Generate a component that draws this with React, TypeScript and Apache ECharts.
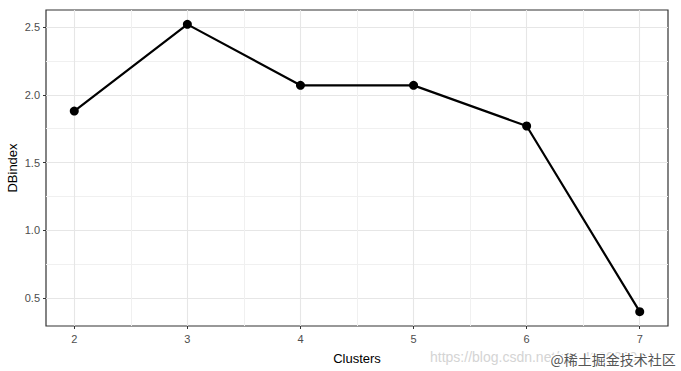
import React, { useEffect, useRef } from "react";
import * as echarts from "echarts";

const clusters = [2, 3, 4, 5, 6, 7];
const dbIndex = [1.88, 2.52, 2.07, 2.07, 1.77, 0.4];
const xMajorTicks = [2, 3, 4, 5, 6, 7];
const xMinorTicks = [2.5, 3.5, 4.5, 5.5, 6.5];
const yMajorTicks = [0.5, 1.0, 1.5, 2.0, 2.5];
const yMinorTicks = [0.75, 1.25, 1.75, 2.25];

export default function App() {
  const ref = useRef<HTMLDivElement>(null);
  useEffect(() => {
    if (!ref.current) return;
    const chart = echarts.init(ref.current, null, { renderer: "svg" });
    const font = "Liberation Sans, Arial, sans-serif";
    const xMin = 1.75, xMax = 7.25;
    const yMin = 0.294, yMax = 2.626;
    chart.setOption({
      animation: false,
      backgroundColor: "#ffffff",
      grid: {
        left: 46, top: 10, width: 622, height: 316,
        containLabel: false, outerBoundsMode: "none",
        show: true, borderColor: "#333333", borderWidth: 1.2, backgroundColor: "transparent",
      },
      xAxis: [
        {
          type: "value", min: xMin, max: xMax, gridIndex: 0,
          name: "Clusters", nameLocation: "middle", nameGap: 26, nameMoveOverlap: false,
          nameTextStyle: { color: "#000", fontSize: 13, fontFamily: font },
          axisLine: { show: false },
          axisTick: { show: true, length: 3, customValues: xMajorTicks, lineStyle: { color: "#333", width: 1 } },
          axisLabel: { customValues: xMajorTicks, color: "#4d4d4d", fontSize: 11, fontFamily: font, margin: 7, formatter: (v: number) => String(v) },
          splitLine: { show: true, lineStyle: { color: "#e6e6e6", width: 1.1 } },
        },
        {
          type: "value", min: xMin, max: xMax, gridIndex: 0, position: "bottom",
          axisLine: { show: false },
          axisTick: { show: false, customValues: xMinorTicks },
          axisLabel: { show: false, customValues: xMinorTicks },
          splitLine: { show: true, lineStyle: { color: "#f0f0f0", width: 1 } },
        },
      ],
      yAxis: [
        {
          type: "value", min: yMin, max: yMax, gridIndex: 0,
          name: "DBindex", nameLocation: "middle", nameGap: 27, nameMoveOverlap: false,
          nameTextStyle: { color: "#000", fontSize: 13, fontFamily: font },
          axisLine: { show: false },
          axisTick: { show: true, length: 3, customValues: yMajorTicks, lineStyle: { color: "#333", width: 1 } },
          axisLabel: { customValues: yMajorTicks, color: "#4d4d4d", fontSize: 11, fontFamily: font, margin: 6, formatter: (v: number) => v.toFixed(1) },
          splitLine: { show: true, lineStyle: { color: "#e6e6e6", width: 1.1 } },
        },
        {
          type: "value", min: yMin, max: yMax, gridIndex: 0, position: "left",
          axisLine: { show: false },
          axisTick: { show: false, customValues: yMinorTicks },
          axisLabel: { show: false, customValues: yMinorTicks },
          splitLine: { show: true, lineStyle: { color: "#f0f0f0", width: 1 } },
        },
      ],
      series: [
        {
          type: "line",
          xAxisIndex: 0, yAxisIndex: 0,
          data: clusters.map((c, i) => [c, dbIndex[i]]),
          symbol: "circle", symbolSize: 9,
          lineStyle: { color: "#000", width: 2.2 },
          itemStyle: { color: "#000" },
          z: 5,
        },
      ],
      graphic: [
        {
          type: "text", left: 430, top: 350, z: 10,
          style: { text: "https://blog.csdn.net/qq_40608904", fill: "#d4d4d4", fontSize: 14, fontFamily: font },
        },
        {
          type: "text", left: 549, top: 350, z: 11,
          style: { text: "@稀土掘金技术社区", fill: "#555555", fontSize: 14, fontFamily: "Noto Sans CJK SC, sans-serif", stroke: "#ffffff", lineWidth: 3 },
        },
      ],
    });
    return () => chart.dispose();
  }, []);
  return <div ref={ref} style={{ position: "fixed", left: 0, top: 0, width: 681, height: 371 }} />;
}
